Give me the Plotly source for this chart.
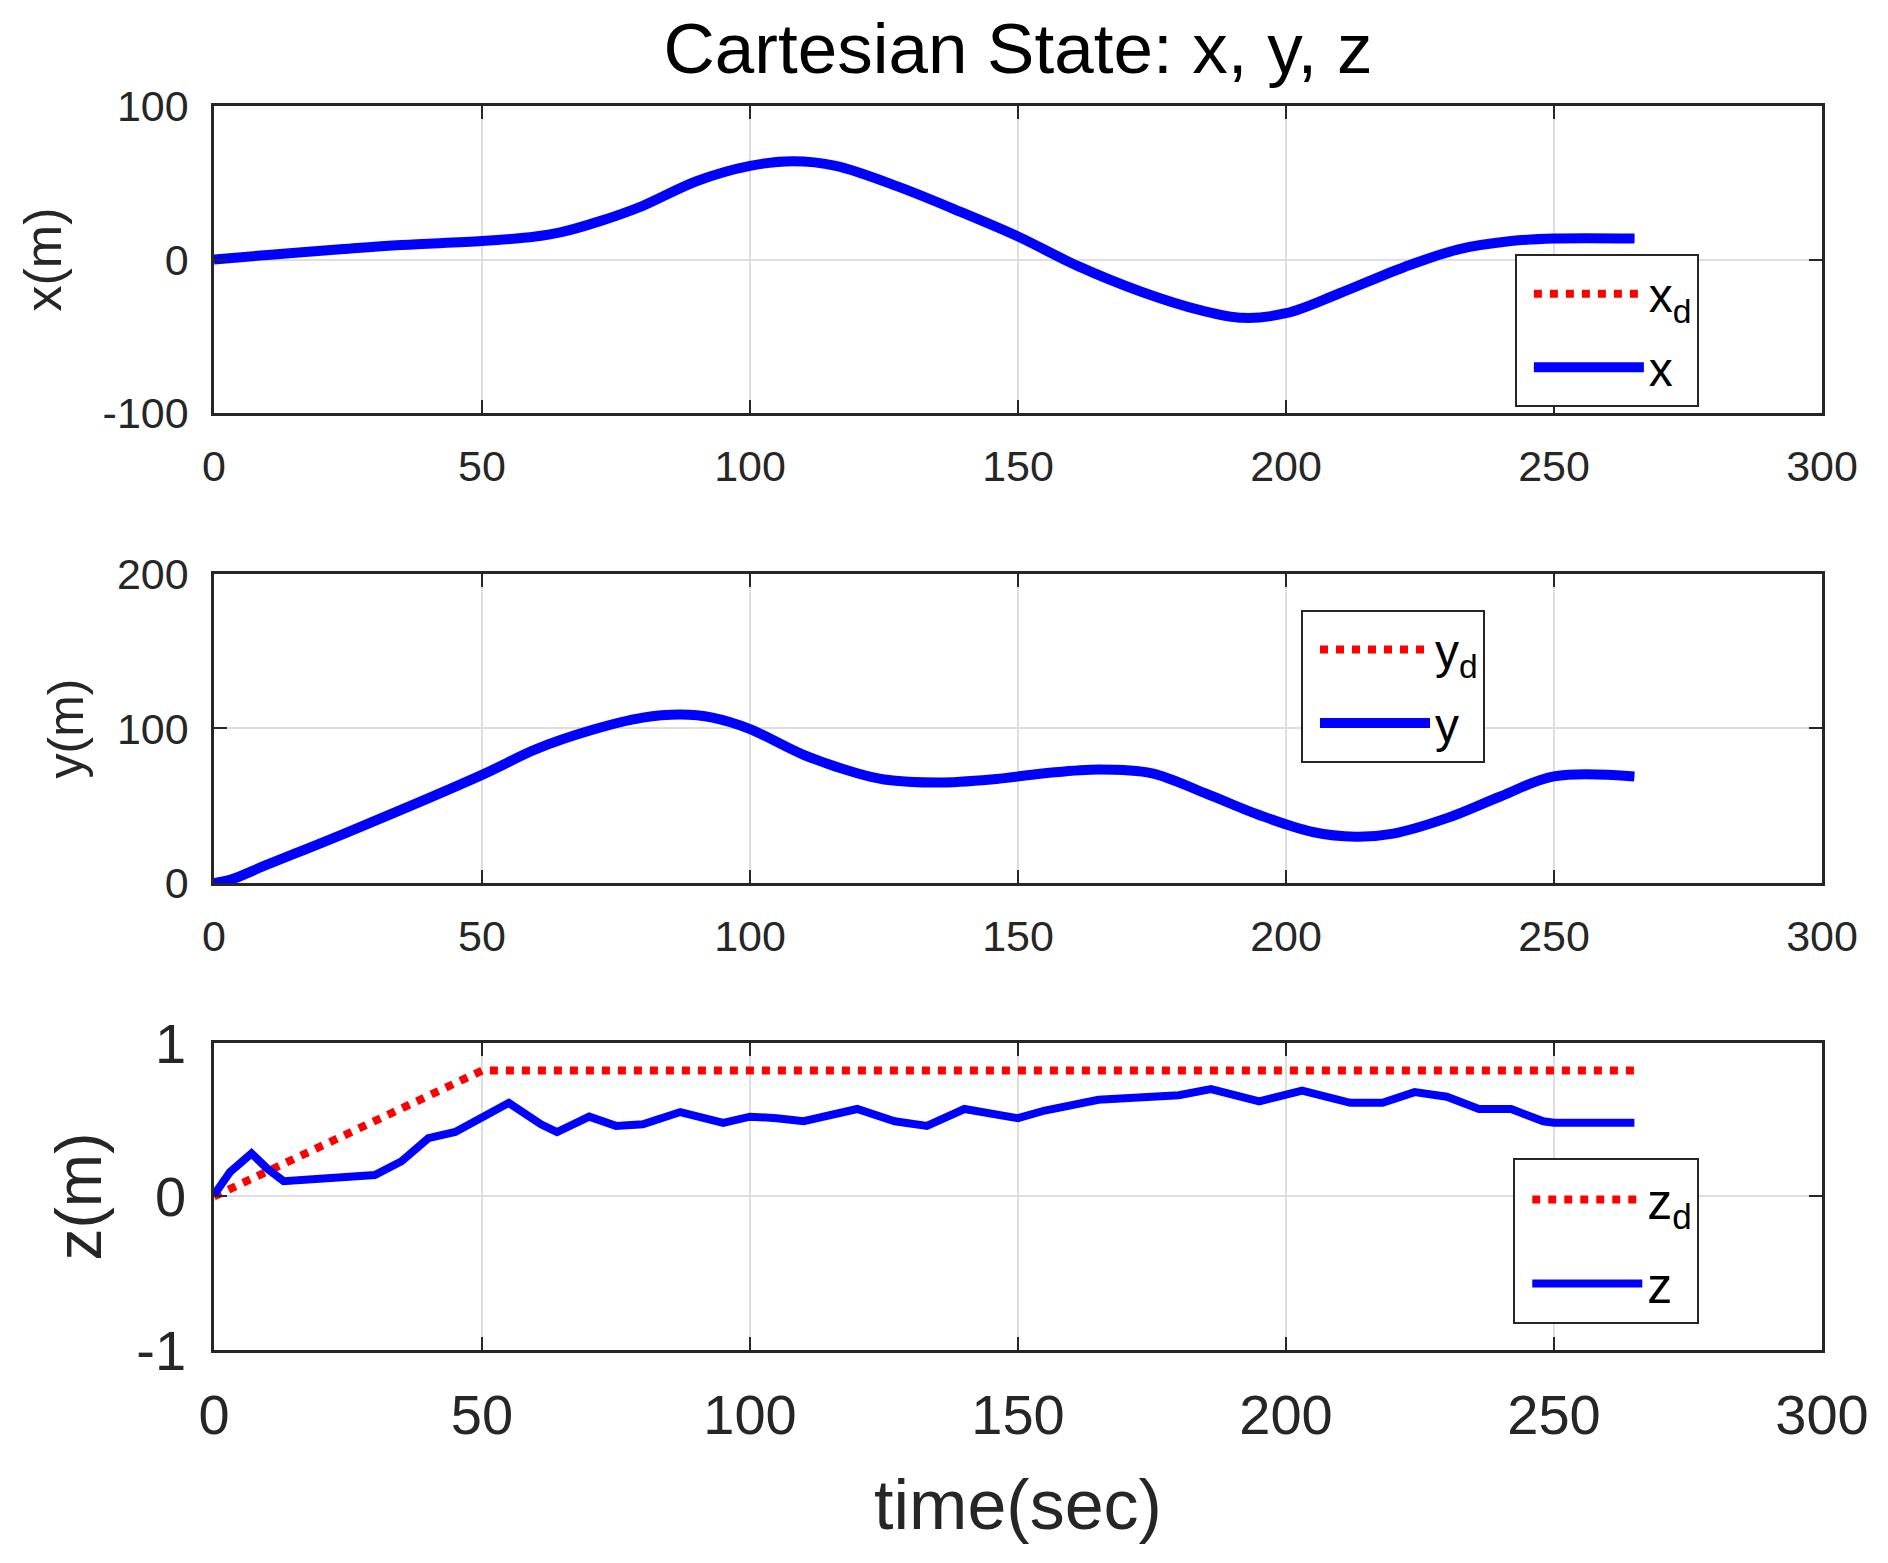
import plotly.graph_objects as go

# ---------------- data ----------------
t_x = [0, 10, 23, 35, 50, 60, 65, 72, 80, 90, 100, 108, 116, 128, 140, 150,
       161, 173, 184, 192, 200, 210, 222, 232, 242, 250, 265]
x_vals = [0, 3, 6.5, 9.5, 12, 15, 18, 25, 35, 51, 61, 64, 61, 47, 30, 15,
          -4, -21, -33, -38, -35, -22, -5, 6.5, 12, 13.7, 13.7]
xd_vals = [0, 3, 6.5, 9.5, 12, 15, 18, 25, 35, 51, 61, 64, 61, 47, 30, 15,
           -4, -21, -33, -38, -35, -22, -5, 6.5, 12, 13.7, 13.7]

t_y = [0, 3, 10, 25, 50, 60, 70, 80, 87, 93, 100, 110, 120, 125, 135, 145,
       155, 165, 175, 185, 195, 205, 213, 220, 230, 240, 250, 265]
y_vals = [0, 2, 12, 33, 70, 86.5, 98.5, 107, 109, 107, 99.6, 83, 71, 67, 65, 67,
          71, 73.5, 71, 58, 44, 33, 30, 32, 42, 56, 69, 69]
yd_vals = [0, 2, 12, 33, 70, 86.5, 98.5, 107, 109, 107, 99.6, 83, 71, 67, 65, 67,
           71, 73.5, 71, 58, 44, 33, 30, 32, 42, 56, 69, 69]

t_z = [0, 3, 7, 10, 13, 20, 30, 35, 40, 45, 50, 55, 61, 64, 70, 75, 80, 87,
       95, 100, 105, 110, 120, 127, 133, 140, 150, 155, 165, 175, 180, 186,
       195, 203, 212, 218, 224, 230, 236, 242, 248, 250, 265]
z_vals = [0.01, 0.16, 0.28, 0.18, 0.10, 0.12, 0.14, 0.23, 0.38, 0.42, 0.51, 0.61,
          0.47, 0.42, 0.52, 0.46, 0.47, 0.55, 0.48, 0.52, 0.51, 0.49, 0.57, 0.49,
          0.46, 0.57, 0.51, 0.56, 0.63, 0.65, 0.66, 0.70, 0.62, 0.69, 0.61, 0.61,
          0.68, 0.65, 0.57, 0.57, 0.49, 0.48, 0.48]

t_zd = [0, 50, 265]
zd_vals = [0, 0.82, 0.82]

x_ticks = [0, 50, 100, 150, 200, 250, 300]
x_tick_text = ["0", "50", "100", "150", "200", "250", "300"]
y1_ticks = [-100, 0, 100]
y1_tick_text = ["-100", "0", "100"]
y2_ticks = [0, 100, 200]
y2_tick_text = ["0", "100", "200"]
y3_ticks = [-1, 0, 1]
y3_tick_text = ["-1", "0", "1"]

# ---------------- styles ----------------
FONT = "Liberation Sans, Arial, Helvetica, sans-serif"
INK = "#262626"
RED = "#ff0000"
BLUE = "#0000ff"

fig = go.Figure()

# panel 1
fig.add_trace(go.Scatter(x=t_x, y=xd_vals, mode="lines", name="x<sub>d</sub>",
                         legendgroup="a",
                         line=dict(color=RED, width=8, dash="dot", shape="spline"),
                         xaxis="x", yaxis="y", legend="legend"))
fig.add_trace(go.Scatter(x=t_x, y=x_vals, mode="lines", name="x",
                         legendgroup="b",
                         line=dict(color=BLUE, width=10, shape="spline"),
                         xaxis="x", yaxis="y", legend="legend"))
# panel 2
fig.add_trace(go.Scatter(x=t_y, y=yd_vals, mode="lines", name="y<sub>d</sub>",
                         legendgroup="c",
                         line=dict(color=RED, width=8, dash="dot", shape="spline"),
                         xaxis="x2", yaxis="y2", legend="legend2"))
fig.add_trace(go.Scatter(x=t_y, y=y_vals, mode="lines", name="y",
                         legendgroup="d",
                         line=dict(color=BLUE, width=10, shape="spline"),
                         xaxis="x2", yaxis="y2", legend="legend2"))
# panel 3
fig.add_trace(go.Scatter(x=t_zd, y=zd_vals, mode="lines", name="z<sub>d</sub>",
                         legendgroup="e",
                         line=dict(color=RED, width=8, dash="dot"),
                         xaxis="x3", yaxis="y3", legend="legend3"))
fig.add_trace(go.Scatter(x=t_z, y=z_vals, mode="lines", name="z",
                         legendgroup="f",
                         line=dict(color=BLUE, width=8),
                         xaxis="x3", yaxis="y3", legend="legend3"))


def axis_style(size):
    return dict(showline=True, mirror="ticks", linecolor=INK, linewidth=2.5,
                ticks="inside", ticklen=13, tickwidth=2, tickcolor=INK,
                showgrid=True, gridcolor="#dedede", gridwidth=2, zeroline=False,
                tickfont=dict(family=FONT, size=size, color=INK))


def xaxis(anchor, size, standoff, title=None, tsize=None, tstand=0):
    d = axis_style(size)
    d.update(domain=[0, 1], anchor=anchor, range=[0, 300], tickvals=x_ticks,
             ticktext=x_tick_text, ticklabelstandoff=standoff)
    if title:
        d["title"] = dict(text=title, font=dict(family=FONT, size=tsize, color=INK),
                          standoff=tstand)
    return d


def yaxis(anchor, dom, rng, ticks, ticktext, title, size, tsize, standoff, tstand):
    d = axis_style(size)
    d.update(domain=dom, anchor=anchor, range=rng, tickvals=ticks, ticktext=ticktext,
             ticklabelstandoff=standoff,
             title=dict(text=title, font=dict(family=FONT, size=tsize, color=INK),
                        standoff=tstand))
    return d


def legend_style(x, y, size, iw, gap):
    return dict(x=x, y=y, xanchor="left", yanchor="top", bgcolor="white",
                bordercolor=INK, borderwidth=2, itemwidth=iw, indentation=12,
                font=dict(family=FONT, size=size, color="#000000"),
                tracegroupgap=gap)


W, H = 1872, 1547
fig.update_layout(
    width=W, height=H,
    paper_bgcolor="white", plot_bgcolor="white",
    margin=dict(l=206, r=58, t=98, b=205, autoexpand=False),
    title=dict(text="Cartesian State: x, y, z", x=0.5, xref="paper", xanchor="center",
               y=1 - 40 / H, yref="container", yanchor="middle",
               font=dict(family=FONT, size=71, color="#000000")),
    xaxis=xaxis("y", 43, 14),
    xaxis2=xaxis("y2", 43, 14),
    xaxis3=xaxis("y3", 56, 14, "time(sec)", 70, 36),
    yaxis=yaxis("x", [0.7532, 1.0], [-100, 100], y1_ticks, y1_tick_text,
                "x(m)", 43, 52, 14, 25),
    yaxis2=yaxis("x2", [0.3754, 0.6238], [0, 200], y2_ticks, y2_tick_text,
                 "y(m)", 43, 50, 14, 18),
    yaxis3=yaxis("x3", [0.0, 0.2468], [-1, 1], y3_ticks, y3_tick_text,
                 "z(m)", 56, 64, 14, 14),
    legend=legend_style(0.809, 0.881, 48, 110, 8),
    legend2=legend_style(0.676, 0.595, 48, 110, 8),
    legend3=legend_style(0.808, 0.154, 50, 110, 16),
    showlegend=True,
)

fig.write_html("out.html")
